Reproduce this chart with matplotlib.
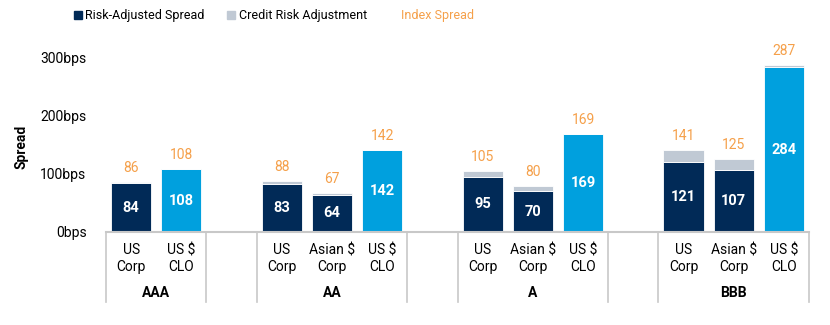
import numpy as np
import matplotlib.pyplot as plt
from matplotlib.patches import Patch
from matplotlib.transforms import blended_transform_factory

plt.rcParams['font.family'] = ['Roboto', 'DejaVu Sans']

# data
groups = ["AAA", "AA", "A", "BBB"]
group_cats = [["US\nCorp", "US $\nCLO"],
              ["US\nCorp", "Asian $\nCorp", "US $\nCLO"],
              ["US\nCorp", "Asian $\nCorp", "US $\nCLO"],
              ["US\nCorp", "Asian $\nCorp", "US $\nCLO"]]
risk_adj = [[84, 108], [83, 64, 142], [95, 70, 169], [121, 107, 284]]
index_spread = [[86, 108], [88, 67, 142], [105, 80, 169], [141, 125, 287]]

navy = '#012a57'
blue = '#00a0de'
grey = '#c0c9d4'
orange = '#f5a04a'
line_c = '#c8c8c8'

fig = plt.figure(figsize=(8.3, 3.25), dpi=100)
ax = fig.add_axes([106/830, 1-232/325, (809-106)/830, (232-45)/325])

# slot positions: one empty slot between groups
xs, labels, spans = [], [], []
pos = 0
for g, cats in zip(groups, group_cats):
    start = pos
    for c in cats:
        xs.append(pos)
        labels.append(c)
        pos += 1
    spans.append((start - 0.5, pos - 0.5))
    pos += 1

ras = np.concatenate(risk_adj)
idx = np.concatenate(index_spread)
cra = idx - ras
is_clo = np.array(['CLO' in l for l in labels])
colors = [blue if c else navy for c in is_clo]

ax.bar(xs, ras, width=0.8, color=colors, edgecolor='white', linewidth=0.6)
ax.bar(xs, cra, bottom=ras, width=0.8, color=grey, edgecolor='white', linewidth=0.6)

for x, r, t in zip(xs, ras, idx):
    ax.text(x, r / 2, str(r), ha='center', va='center', color='white',
            fontsize=10.5, fontweight='bold')
    ax.annotate(str(t), (x, t), xytext=(0, 5), textcoords='offset points',
                ha='center', va='bottom', color=orange, fontsize=10)

ax.set_xlim(-0.5, pos - 1.5)
ax.set_ylim(0, 322)
ax.set_yticks([0, 100, 200, 300])
ax.set_yticklabels(['0bps', '100bps', '200bps', '300bps'])
ax.tick_params(axis='y', length=0, pad=14, labelsize=10)
ax.set_xticks(xs)
ax.set_xticklabels(labels, fontsize=10, linespacing=1.25)
ax.tick_params(axis='x', length=0, pad=8)
ax.set_ylabel('Spread', fontsize=10, fontweight='bold')
ax.yaxis.set_label_coords(-0.11, 0.455)

for s in ['top', 'right', 'left']:
    ax.spines[s].set_visible(False)
ax.spines['bottom'].set_color(line_c)
ax.spines['bottom'].set_linewidth(1.5)

trans = blended_transform_factory(ax.transData, ax.transAxes)
for g, (a, b) in zip(groups, spans):
    for xv in (a, b):
        ax.plot([xv, xv], [0, -0.375], transform=trans, color=line_c,
                lw=1.2, clip_on=False)
    ax.text((a + b) / 2, -0.325, g, transform=trans, ha='center', va='center',
            fontsize=10, fontweight='bold')

handles = [Patch(color=navy), Patch(color=grey), Patch(color='none')]
leg = fig.legend(handles, ['Risk-Adjusted Spread', 'Credit Risk Adjustment', 'Index Spread'],
                 loc='center', bbox_to_anchor=(0.33, 0.951), ncol=3, frameon=False,
                 fontsize=9, handlelength=0.6, handleheight=0.6, handletextpad=0.3,
                 columnspacing=1.8)
leg.get_texts()[2].set_color(orange)

fig.savefig('out.png', dpi=100)
